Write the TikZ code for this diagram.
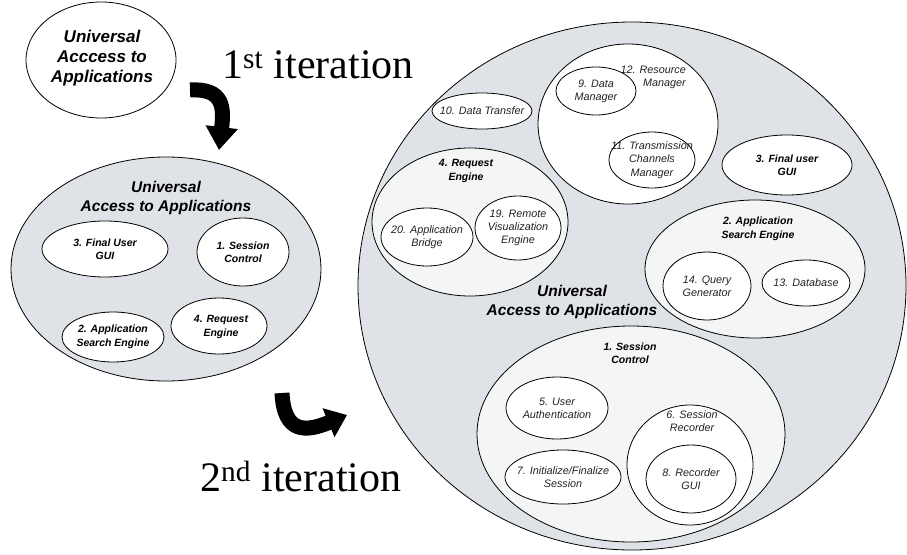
\documentclass[tikz,border=0pt]{standalone}
\usepackage{fontspec}
\setmainfont{Liberation Serif}
\setsansfont{Liberation Sans}[ItalicFont={Liberation Sans Italic}, BoldFont={Liberation Sans Bold}, BoldItalicFont={Liberation Sans Bold Italic}]
\newfontfamily\lsitalic{Liberation Sans Italic}
\usetikzlibrary{shapes.geometric,arrows.meta}
\definecolor{grayfill}{HTML}{DFE2E7}
\definecolor{lightfill}{HTML}{F4F5F5}
\definecolor{txtgray}{HTML}{222222}
\begin{document}
\begin{tikzpicture}[x=1pt,y=-1pt,
  ell/.style={ellipse, draw=black, line width=0.8pt, inner sep=0pt, outer sep=0pt},
  bigell/.style={ell, fill=grayfill},
  boxell/.style={ell, fill=lightfill},
  leaf/.style={ell, fill=white},
  lbl/.style={align=center, inner sep=0pt, text=txtgray, font=\lsitalic\fontsize{10.8}{13.3}\selectfont},
  blbl/.style={align=center, inner sep=0pt, font=\sffamily\bfseries\itshape\fontsize{10.5}{13.5}\selectfont},
  title/.style={align=center, inner sep=0pt, font=\sffamily\bfseries\itshape\fontsize{15.5}{18.5}\selectfont},
  iter/.style={anchor=base west, inner sep=0pt, font=\rmfamily\fontsize{42}{48}\selectfont},
  bigarrow/.style={line width=15pt, line cap=butt, -{Triangle[length=23pt,width=31pt]}}
]
\useasboundingbox (0,0) rectangle (907,554);

% top ellipse
\node[leaf, minimum width=150, minimum height=116] (top) at (101,60) {};
\node[align=center, inner sep=0pt, font=\sffamily\bfseries\itshape\fontsize{17}{20}\selectfont] (topt) at (102,58) {Universal\\Acccess to\\Applications};

\node[iter] (it1) at (222,78) {1\textsuperscript{st} iteration};
\node[iter] (it2) at (200,491) {2\textsuperscript{nd} iteration};

% arrows
\coordinate (a1s) at (190,90);
\coordinate (a1e) at (219,150);
\draw[bigarrow] (a1s) .. controls (224,88) and (224,108) .. (a1e);
\coordinate (a2s) at (282,393);
\coordinate (a2e) at (347,415);
\draw[bigarrow, -{Triangle[length=20pt,width=30pt]}] (a2s) .. controls (284,434) and (306,432) .. (a2e);

% left ellipse (1st iteration)
\node[bigell, minimum width=310, minimum height=224] (left) at (166,269) {};
\node[title] (leftt) at (166,198) {Universal\\Access to Applications};
\node[leaf, minimum width=126, minimum height=56] (lf3) at (105,249) {};
\node[blbl] (lf3t) at (lf3) {3. Final User\\GUI};
\node[leaf, minimum width=92, minimum height=68] (ls1) at (243,252) {};
\node[blbl] (ls1t) at (ls1) {1. Session\\Control};
\node[leaf, minimum width=102, minimum height=50] (la2) at (113,337) {};
\node[blbl] (la2t) at (la2) {2. Application\\Search Engine};
\node[leaf, minimum width=96, minimum height=56] (lr4) at (219,326) {};
\node[blbl] (lr4t) at (221,327) {4. Request\\Engine};

% big circle (2nd iteration)
\node[bigell, minimum width=548, minimum height=528] (big) at (632,286) {};
\node[title] (bigt) at (572,302) {Universal\\Access to Applications};

\node[leaf, minimum width=100, minimum height=36] (dt10) at (482,111) {};
\node[lbl] (dt10t) at (dt10) {10. Data Transfer};

\node[leaf, minimum width=180, minimum height=160] (rm12) at (628,124) {};
\node[lbl, align=right, anchor=east] (rm12t) at (686,77) {12. Resource\\Manager};
\node[leaf, minimum width=80, minimum height=48] (dm9) at (596,91) {};
\node[lbl] (dm9t) at (dm9) {9. Data\\Manager};
\node[leaf, minimum width=86, minimum height=56] (tc11) at (652,160) {};
\node[lbl] (tc11t) at (tc11) {11. Transmission\\Channels\\Manager};

\node[leaf, minimum width=130, minimum height=60] (fu3) at (787,165) {};
\node[blbl] (fu3t) at (fu3) {3. Final user\\GUI};

\node[boxell, minimum width=196, minimum height=148] (re4) at (470,222) {};
\node[blbl] (re4t) at (466,171) {4. Request\\Engine};
\node[leaf, minimum width=92, minimum height=58] (ab20) at (427,237) {};
\node[lbl] (ab20t) at (ab20) {20. Application\\Bridge};
\node[leaf, minimum width=86, minimum height=64] (rv19) at (518,228) {};
\node[lbl] (rv19t) at (rv19) {19. Remote\\Visualization\\Engine};

\node[boxell, minimum width=220, minimum height=138] (se2) at (755,269) {};
\node[blbl] (se2t) at (758,229) {2. Application\\Search Engine};
\node[leaf, minimum width=88, minimum height=68] (qg14) at (707,286) {};
\node[lbl] (qg14t) at (qg14) {14. Query\\Generator};
\node[leaf, minimum width=88, minimum height=46] (db13) at (806,283) {};
\node[lbl] (db13t) at (db13) {13. Database};

\node[boxell, minimum width=308, minimum height=216] (sc1) at (631,434) {};
\node[blbl] (sc1t) at (630,353) {1. Session\\Control};
\node[leaf, minimum width=102, minimum height=62] (ua5) at (557,408) {};
\node[lbl] (ua5t) at (ua5) {5. User\\Authentication};
\node[leaf, minimum width=116, minimum height=54] (if7) at (563,477) {};
\node[lbl] (if7t) at (if7) {7. Initialize/Finalize\\Session};
\node[leaf, minimum width=126, minimum height=120] (sr6) at (690,465) {};
\node[lbl] (sr6t) at (692,421) {6. Session\\Recorder};
\node[leaf, minimum width=90, minimum height=68] (rg8) at (691,479) {};
\node[lbl] (rg8t) at (rg8) {8. Recorder\\GUI};
\end{tikzpicture}
\end{document}
